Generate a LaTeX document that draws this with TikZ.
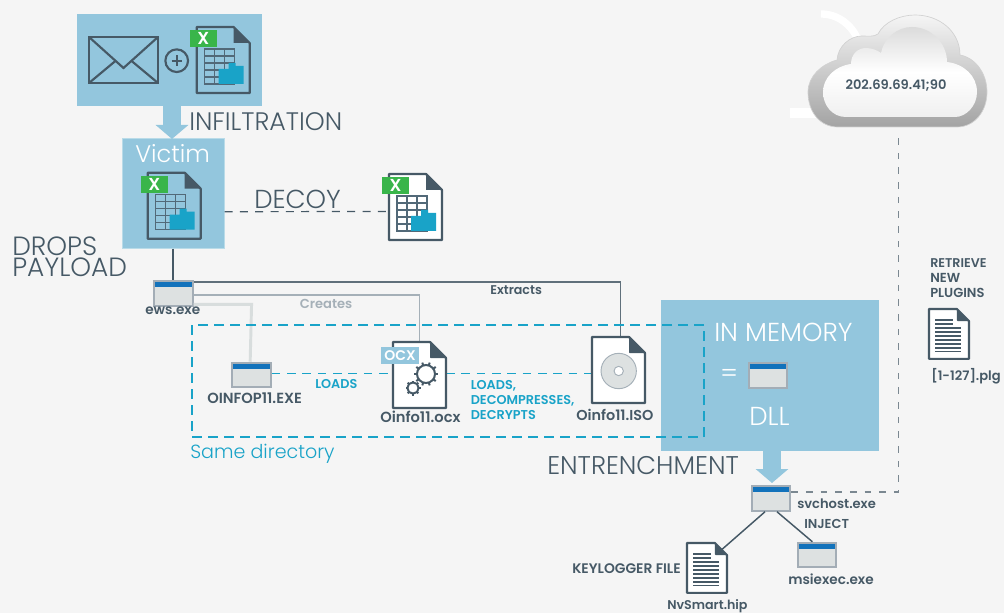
\documentclass[tikz,border=0pt]{standalone}
\usepackage{fontspec}
\setmainfont{Poppins}
\newfontfamily\lightf{Poppins Light}
\newfontfamily\boldf{Poppins SemiBold}
\usetikzlibrary{arrows.meta,calc,shadings}
\definecolor{bgc}{HTML}{F5F5F5}
\definecolor{panelc}{HTML}{93C6DD}
\definecolor{panelb}{HTML}{B9DBE8}
\definecolor{darkc}{HTML}{465966}
\definecolor{tealc}{HTML}{19A3C8}
\definecolor{barc}{HTML}{1272BB}
\definecolor{framec}{HTML}{A3ADB6}
\definecolor{winc}{HTML}{DDE1E1}
\definecolor{greenc}{HTML}{39B54A}
\definecolor{greyt}{HTML}{A5B0B8}
\definecolor{paleline}{HTML}{D8DDDD}
\newcommand\pxu{0.75pt}
\newcommand\fsz[1]{\fontsize{#1pt}{11.25pt}\selectfont}
\tikzset{
  x=0.75pt,y=-0.75pt,
  panel/.style={fill=panelc,draw=none,inner sep=0,outer sep=0},
  winbox/.style={draw=framec,line width=1.5pt,fill=winc,minimum width=29pt,minimum height=18.5pt,inner sep=0,outer sep=0.7pt,
    path picture={\fill[barc] (path picture bounding box.north west) rectangle ([yshift=-4.4pt]path picture bounding box.north east);}},
  docbox/.style={inner sep=0,outer sep=0,minimum width=39.75pt,minimum height=49.5pt},
  smalldoc/.style={inner sep=0,outer sep=0,minimum width=30pt,minimum height=37.5pt},
  bigt/.style={font=\lightf\fontsize{19.5pt}{22pt}\selectfont,text=darkc,inner sep=0,anchor=west},
  whitet/.style={font=\lightf\fontsize{19.5pt}{22pt}\selectfont,text=white,inner sep=0,anchor=west},
  lab/.style={font=\boldf\fsz{9.8},text=darkc,inner sep=0,anchor=west,align=left},
  tlab/.style={font=\boldf\fsz{9.6},text=tealc,inner sep=0,anchor=west,align=left},
  dashb/.style={draw=tealc,line width=0.75pt,dash pattern=on 6.5pt off 5pt},
  dashg/.style={draw=darkc!70!bgc,line width=1.1pt,dash pattern=on 5pt off 6pt},
  bigarrow/.style={draw=panelc,line width=13.5pt,-{Triangle[width=24pt,length=10.5pt]}},
}
% document outline, top-left at current origin, 53x66
\newcommand\docshape{%
  \fill[white] (0,0) -- (37,0) -- (53,16) -- (53,66) -- (0,66) -- cycle;
  \draw[darkc,line width=1.6pt,line join=round] (0,0) -- (37,0) -- (53,16) -- (53,66) -- (0,66) -- cycle;
  \fill[darkc,rounded corners=0.5pt] (37,0) -- (53,16) -- (37,16) -- cycle;}
% spreadsheet document
\newcommand\xlsdoc[3]{%
  \begin{scope}[shift={(#1,#2)}]
  \draw[darkc,line width=1.6pt,line join=round] (0,0) -- (37,0) -- (53,16) -- (53,66) -- (0,66) -- cycle;
  \fill[darkc] (37,0) -- (53,16) -- (37,16) -- cycle;
  \draw[darkc!85!panelc,line width=1pt] (8,22) rectangle (38,57);
  \foreach \yy in {29,36,43,50} \draw[darkc!85!panelc,line width=1pt] (8,\yy) -- (38,\yy);
  \foreach \xx in {18,28} \draw[darkc!85!panelc,line width=1pt] (\xx,22) -- (\xx,57);
  \fill[tealc] (22,57) -- (22,42) -- (32,42) -- (32,36) -- (39,36) -- (39,39) -- (47,39) -- (47,57) -- cycle;
  \fill[greenc] (-7,3) rectangle (20,20);
  \node[font=\boldf\fontsize{13pt}{13pt}\selectfont,text=white,inner sep=0] (#3) at (6.5,11.5) {X};
  \end{scope}}
% text-lines document 40x50 at (#1,#2)
\newcommand\txtdoc[2]{%
  \begin{scope}[shift={(#1,#2)},scale=0.755]
  \docshape
  \end{scope}
  \begin{scope}[shift={(#1,#2)}]
  \foreach \yy in {11,15} \draw[darkc,line width=1.2pt] (6,\yy) -- (24,\yy);
  \foreach \yy in {19,23,27,31,35,39,42.5} \draw[darkc,line width=1.2pt] (6,\yy) -- (32,\yy);
  \end{scope}}
\newcommand\gearat[4]{% x y r teeth
  \foreach \i in {1,...,#4} {
    \draw[darkc,line width=1.5pt] ($(#1,#2)+({cos(\i*360/#4)*#3*0.75},{sin(\i*360/#4)*#3*0.75})$) -- ($(#1,#2)+({cos(\i*360/#4)*#3*1.0},{sin(\i*360/#4)*#3*1.0})$);}
  \draw[darkc,line width=1.5pt,fill=white] (#1,#2) circle[radius=0.75*#3];}
\begin{document}
\begin{tikzpicture}
\useasboundingbox (0,0) rectangle (1004,613);
\fill[bgc] (0,0) rectangle (1004,613);

% white swooshes behind cloud
\draw[white,line width=5.5pt] (821,14) .. controls (838,14) and (852,25) .. (858,40);
\fill[white] (790,108) rectangle (830,118);

% panels
\node[panel,minimum width=185*\pxu,minimum height=92*\pxu] (mailbox) at (169.5,60) {};
\node[panel,draw=panelb,line width=0.75pt,minimum width=102*\pxu,minimum height=110*\pxu] (victim) at (173.5,193.7) {};
\node[panel,minimum width=218*\pxu,minimum height=151*\pxu] (memory) at (770,375.5) {};

% arrows
\coordinate (a1s) at (172,105);
\coordinate (a1e) at (172,139);
\draw[bigarrow] (a1s) -- (a1e);
\coordinate (a2s) at (772,450);
\coordinate (a2e) at (772,483);
\draw[bigarrow] (a2s) -- (a2e);

% envelope
\node[inner sep=0,outer sep=0,minimum width=51.75pt,minimum height=34.5pt,draw=darkc,line width=1.6pt] (mail) at (123.5,60) {};
\draw[darkc,line width=1.6pt,line join=miter] (mail.north west) -- (123.5,68) -- (mail.north east);
\draw[darkc,line width=1.6pt] (mail.south west) -- (116,60.5) (mail.south east) -- (131,60.5);
% plus
\node[draw=darkc,circle,line width=1.6pt,minimum size=17pt,inner sep=0] (plus) at (176.7,60.7) {};
\draw[darkc,line width=1.4pt] (171.5,60.7) -- (182,60.7) (176.7,55.5) -- (176.7,66);

\xlsdoc{196.7}{27}{x1}
\xlsdoc{147.7}{172.7}{x2}
\node[inner sep=0,outer sep=0,minimum width=39.75pt,minimum height=49.5pt] (decoy) at (415.5,207) {};
\draw[draw=darkc,line width=0.9pt,dash pattern=on 6pt off 5.5pt] ([yshift=-13.5pt]victim.east) -- (decoy.west |- 0,211.5);
\begin{scope}[shift={(389,174)}]
 \fill[white] (0,0) -- (37,0) -- (53,16) -- (53,66) -- (0,66) -- cycle;
\end{scope}
\xlsdoc{389}{174}{x3}

% victim labels
\node[whitet,font=\lightf\fontsize{18pt}{20pt}\selectfont] (victimt) at (135,154) {Victim};
\node[bigt,font=\lightf\fontsize{19pt}{20pt}\selectfont] (inf) at (189,122) {INFILTRATION};
\node[bigt] (dec) at (254,199) {DECOY};
\node[bigt,align=left,font=\lightf\fontsize{19.8pt}{15.75pt}\selectfont] (drops) at (12,256.5) {DROPS\\PAYLOAD};

% executable icons
\node[winbox] (ews) at (173.3,293.7) {};
\node[winbox] (oinfop) at (251.5,375) {};
\node[docbox] (ocx) at (419.5,375) {};
\node[docbox] (iso) at (618.5,370) {};

% connectors from ews
\draw[darkc,line width=1.5pt] (victim.south -| ews.north) -- (ews.north);
\draw[darkc!85!bgc,line width=1.3pt] ([yshift=9pt]ews.east) -- ++(427,0) coordinate (isotop) -- (isotop |- iso.north);
\draw[greyt,line width=1.2pt] ([yshift=-0.8pt]ews.east) -| (ocx.north);
\draw[paleline,line width=2.2pt] ([yshift=-8pt]ews.east) -- ++(58,0) -- ([xshift=-1pt]oinfop.north);

% same-directory dashes
\draw[tealc,line width=2.1pt,dash pattern=on 7.5pt off 4.5pt] (192,325) rectangle (704,437);

% OCX
\draw[dashb] (oinfop.east |- 0,373) -- (ocx.west |- 0,373);
\draw[dashb] (ocx.east |- 0,373) -- (iso.west |- 0,373);
\begin{scope}[shift={(393,342)}]\docshape\end{scope}
\gearat{426}{374}{12}{10}
\gearat{413}{388}{7.5}{8}
\fill[panelc] (381,347) rectangle (419,364);
\node[font=\boldf\fontsize{10.5pt}{11pt}\selectfont,text=white,inner sep=0] (ocxt) at (400,356) {OCX};
% ISO
\begin{scope}[shift={(592,337)}]\docshape\end{scope}
\node[circle,fill=winc,draw=greyt,line width=0.7pt,minimum size=26.5pt,inner sep=0] (cd) at (618.7,371) {};
\node[circle,fill=white,draw=greyt,line width=0.7pt,minimum size=7pt,inner sep=0] (cdh) at (618.7,371) {};

% labels
\node[lab] (ewsl) at (145,311) {\fsz{10.2}ews.exe};
\node[lab,text=greyt] (cr) at (299.5,303.5) {Creates};
\node[lab] (ext) at (490,290.5) {\fsz{9.5}Extracts};
\node[lab] (oinl) at (207,398) {\fsz{11}OINFOP11.EXE};
\node[tlab] (loads) at (315,384) {LOADS};
\node[lab] (ocxl) at (380,417) {\fsz{11}Oinfo11.ocx};
\node[tlab] (ldc) at (470.5,400) {LOADS,\\DECOMPRESSES,\\DECRYPTS};
\node[lab] (isol) at (576,415) {\fsz{10.8}Oinfo11.ISO};
\node[font=\lightf\fontsize{14.3pt}{16pt}\selectfont,text=tealc,inner sep=0,anchor=west] (same) at (190,454) {Same directory};

% memory contents
\node[whitet] (inm) at (714,332) {IN MEMORY};
\node[whitet] (eq) at (720,376) {=};
\node[winbox] (dll) at (768,375.5) {};
\node[whitet] (dllt) at (749,416) {DLL};
\node[bigt,font=\lightf\fontsize{19.2pt}{22pt}\selectfont] (ent) at (547,466) {ENTRENCHMENT};

% lower right
\node[winbox] (svc) at (771,498.5) {};
\node[winbox] (msi) at (817,555) {};
\node[smalldoc] (hip) at (707,568) {};
\draw[darkc,line width=1.1pt] ([xshift=-4.5pt]svc.south) -- ([xshift=11pt,yshift=-5pt]hip.north);
\draw[darkc,line width=1.1pt] ([xshift=4.5pt]svc.south) -- ([xshift=-3.5pt]msi.north);
\txtdoc{687}{543}
\node[lab] (svcl) at (797,504) {svchost.exe};
\node[lab] (inj) at (804,524) {\fsz{9.7}INJECT};
\node[lab] (msil) at (788,579) {\fsz{10.2}msiexec.exe};
\node[lab] (keyl) at (572,569) {\fsz{10.4}KEYLOGGER FILE};
\node[lab] (nvl) at (667,606) {\fsz{9.5}NvSmart.hip};

% cloud
\path[draw=black!18,line width=0.5pt,top color=black!4,bottom color=black!36]
 (838,127) .. controls (820,127) and (808,112) .. (808,92)
 .. controls (808,76) and (822,64) .. (837,60)
 .. controls (838,46) and (850,36) .. (862,36)
 .. controls (868,36) and (874,37) .. (878,34)
 .. controls (884,22) and (900,15) .. (915,15)
 .. controls (940,15) and (960,32) .. (960,55)
 .. controls (976,58) and (987,74) .. (987,92)
 .. controls (987,112) and (974,127) .. (957,127) -- cycle;
\path[top color=black!14,bottom color=black!6,middle color=white]
 (846,117) .. controls (832,117) and (823,105) .. (823,92)
 .. controls (823,78) and (835,66) .. (851,64)
 .. controls (851,54) and (858,48) .. (866,48)
 .. controls (871,48) and (877,50) .. (881,53)
 .. controls (884,38) and (897,27) .. (912,27)
 .. controls (932,27) and (947,44) .. (947,62)
 .. controls (964,64) and (977,76) .. (977,92)
 .. controls (977,106) and (966,117) .. (955,117) -- cycle;
\node[lab,anchor=center] (cloud) at (896,86) {202.69.69.41;90};
\coordinate (cloudb) at (898.5,133);

% dashed link svchost to cloud
\draw[dashg] (svc.east |- 0,492) -- (898.5,492) -- (cloudb);

% plugins
\node[lab] (ret) at (930,278) {\fsz{9.5}RETRIEVE\\NEW\\PLUGINS};
\node[smalldoc] (plg) at (949,334) {};
\txtdoc{929}{309}
\node[lab] (plgl) at (931,376) {[1-127].plg};
\end{tikzpicture}
\end{document}
